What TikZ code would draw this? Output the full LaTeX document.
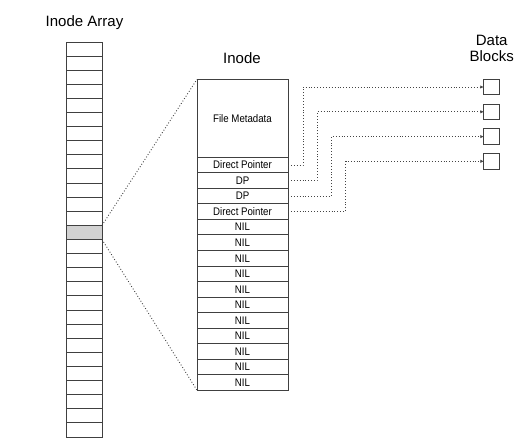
\documentclass[tikz,border=0pt]{standalone}
\usepackage{fontspec}
\setmainfont{Liberation Sans}
\newfontfamily\condfont[FakeStretch=0.88]{Liberation Sans}
\usetikzlibrary{arrows.meta}
\definecolor{linec}{HTML}{404040}
\definecolor{dotc}{HTML}{444444}
\definecolor{cellgray}{HTML}{D2D2D2}
\tikzset{
  arrcell/.style={draw=linec, line width=1pt, minimum width=36pt, minimum height=14.107pt, inner sep=0pt, outer sep=0pt},
  icell/.style={draw=linec, line width=1pt, minimum width=91pt, minimum height=15.53pt, inner sep=0pt, outer sep=0pt, font=\condfont\fontsize{11}{13}\selectfont},
  title/.style={font=\fontsize{15}{17}\selectfont, inner sep=0pt, anchor=base},
  blockbox/.style={draw=linec, line width=1pt, minimum width=15.5pt, minimum height=15.5pt, inner sep=0pt, outer sep=0pt},
  zoomline/.style={dotc, dotted, line width=0.9pt},
  ptrline/.style={dotc, dotted, line width=0.9pt, -{Latex[length=3.5pt,width=3.5pt]}}
}
\begin{document}
\begin{tikzpicture}[x=1pt,y=-1pt]
\useasboundingbox (0,0) rectangle (532,447);
% titles
\node[title] (tarr) at (84.5,27) {Inode Array};
\node[title] (tinode) at (242,63.3) {Inode};
\node[title] (tdata) at (491.7,45) {Data};
\node[title] (tblocks) at (491.7,61.7) {Blocks};
% inode array
\foreach \i in {0,...,27} {
  \node[arrcell] (a\i) at (84, {42+14.107*\i+7.0535}) {};
}
\node[arrcell, fill=cellgray] (a13) at (84, {42+14.107*13+7.0535}) {};
% inode
\node[icell, minimum height=78pt] (meta) at (242.5,118.3) {File Metadata};
\node[icell] (p1) at (242.5,{157.3+15.53*0.5}) {Direct Pointer};
\node[icell] (p2) at (242.5,{157.3+15.53*1.5}) {DP};
\node[icell] (p3) at (242.5,{157.3+15.53*2.5}) {DP};
\node[icell] (p4) at (242.5,{157.3+15.53*3.5}) {Direct Pointer};
\foreach \i in {1,...,11} {
  \node[icell] (n\i) at (242.5,{157.3+15.53*(\i+3.5)}) {NIL};
}
% data blocks
\node[blockbox] (b1) at (491.5,87) {};
\node[blockbox] (b2) at (491.5,111.8) {};
\node[blockbox] (b3) at (491.5,136.6) {};
\node[blockbox] (b4) at (491.5,161.3) {};
% zoom lines
\draw[zoomline] (a13.north east) -- (meta.north west);
\draw[zoomline] (a13.south east) -- (n11.south west);
% pointers
\draw[ptrline] (p1.east) -- ++(15,0) |- (b1.west);
\draw[ptrline] (p2.east) -- ++(29,0) |- (b2.west);
\draw[ptrline] (p3.east) -- ++(43,0) |- (b3.west);
\draw[ptrline] (p4.east) -- ++(57.5,0) |- (b4.west);
\end{tikzpicture}
\end{document}
